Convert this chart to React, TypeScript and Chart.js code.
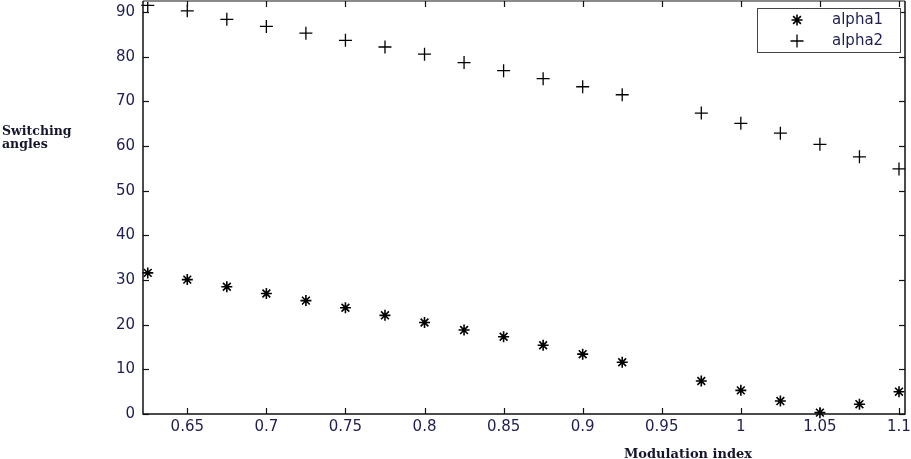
import React, { useEffect, useRef } from "react";
import { Chart, registerables } from "chart.js";

Chart.register(...registerables);

const modulationIndex = [0.625, 0.65, 0.675, 0.7, 0.725, 0.75, 0.775, 0.8, 0.825, 0.85, 0.875, 0.9, 0.925, 0.975, 1.0, 1.025, 1.05, 1.075, 1.1];
const alpha1 = [31.6, 30.1, 28.5, 27.0, 25.4, 23.8, 22.1, 20.5, 18.8, 17.3, 15.4, 13.4, 11.6, 7.4, 5.3, 2.9, 0.3, 2.2, 5.0];
const alpha2 = [91.5, 90.3, 88.4, 86.8, 85.3, 83.7, 82.2, 80.6, 78.7, 76.9, 75.1, 73.3, 71.5, 67.4, 65.1, 62.9, 60.4, 57.6, 54.9];
const xTicks = [0.65, 0.7, 0.75, 0.8, 0.85, 0.9, 0.95, 1.0, 1.05, 1.1];
const xTickLabels = ["0.65", "0.7", "0.75", "0.8", "0.85", "0.9", "0.95", "1", "1.05", "1.1"];
const yTicks = [0, 10, 20, 30, 40, 50, 60, 70, 80, 90];
const seriesNames = ["alpha1", "alpha2"];
const xTitle = "Modulation index";
const yTitleLines = ["Switching", "angles"];

const TICK_COLOR = "#1e1e52";
const TITLE_COLOR = "#15152e";

const matlabPlugin = {
  id: "matlabBox",
  afterDraw(chart: any) {
    const { ctx, chartArea } = chart;
    const { left, right, top, bottom } = chartArea;
    const xs = chart.scales.x;
    const ys = chart.scales.y;
    ctx.save();
    // box
    ctx.lineWidth = 2;
    ctx.strokeStyle = "#8a8a8a";
    ctx.beginPath();
    ctx.moveTo(left, top);
    ctx.lineTo(right, top);
    ctx.stroke();
    ctx.lineWidth = 1.5;
    ctx.strokeStyle = "#111";
    ctx.beginPath();
    ctx.moveTo(left, top);
    ctx.lineTo(left, bottom);
    ctx.lineTo(right, bottom);
    ctx.lineTo(right, top);
    ctx.stroke();
    // inward ticks
    const tl = 6;
    ctx.lineWidth = 1.2;
    ctx.strokeStyle = "#111";
    xTicks.forEach((v) => {
      const px = Math.round(xs.getPixelForValue(v)) + 0.5;
      ctx.beginPath();
      ctx.moveTo(px, bottom);
      ctx.lineTo(px, bottom - tl);
      ctx.stroke();
      ctx.beginPath();
      ctx.moveTo(px, top);
      ctx.lineTo(px, top + tl);
      ctx.stroke();
    });
    yTicks.forEach((v) => {
      const py = Math.round(ys.getPixelForValue(v)) + 0.5;
      ctx.beginPath();
      ctx.moveTo(left, py);
      ctx.lineTo(left + tl, py);
      ctx.stroke();
      ctx.beginPath();
      ctx.moveTo(right, py);
      ctx.lineTo(right - tl, py);
      ctx.stroke();
    });

    // legend
    const lx = 757, ly = 8, lw = 143, lh = 44;
    ctx.fillStyle = "#fff";
    ctx.fillRect(lx, ly, lw, lh);
    ctx.strokeStyle = "#444";
    ctx.lineWidth = 1;
    ctx.strokeRect(lx + 0.5, ly + 0.5, lw, lh);
    const rows = [20, 41];
    const mx = 797;
    ctx.strokeStyle = "#000";
    ctx.lineWidth = 1.6;
    const r1 = 5.5;
    ctx.beginPath();
    ctx.moveTo(mx - r1, rows[0]); ctx.lineTo(mx + r1, rows[0]);
    ctx.moveTo(mx, rows[0] - r1); ctx.lineTo(mx, rows[0] + r1);
    const d = r1 * Math.SQRT1_2;
    ctx.moveTo(mx - d, rows[0] - d); ctx.lineTo(mx + d, rows[0] + d);
    ctx.moveTo(mx - d, rows[0] + d); ctx.lineTo(mx + d, rows[0] - d);
    ctx.stroke();
    const r2 = 6.5;
    ctx.lineWidth = 1.3;
    ctx.beginPath();
    ctx.moveTo(mx - r2, rows[1]); ctx.lineTo(mx + r2, rows[1]);
    ctx.moveTo(mx, rows[1] - r2); ctx.lineTo(mx, rows[1] + r2);
    ctx.stroke();
    ctx.fillStyle = TICK_COLOR;
    ctx.font = "15px 'DejaVu Sans'";
    ctx.textAlign = "left";
    ctx.textBaseline = "middle";
    ctx.fillText(seriesNames[0], 832, rows[0]);
    ctx.fillText(seriesNames[1], 832, rows[1]);

    // titles
    ctx.fillStyle = TITLE_COLOR;
    ctx.font = "bold 12.5px 'DejaVu Serif'";
    ctx.textBaseline = "alphabetic";
    ctx.textAlign = "left";
    ctx.fillText(yTitleLines[0], 2, 135);
    ctx.fillText(yTitleLines[1], 2, 148);
    ctx.font = "bold 13px 'DejaVu Serif'";
    ctx.textAlign = "center";
    ctx.fillText(xTitle, 688, 458);
    ctx.restore();
  },
};

export default function App() {
  const ref = useRef<HTMLCanvasElement>(null);
  useEffect(() => {
    if (!ref.current) return;
    const chart = new Chart(ref.current, {
      type: "scatter",
      data: {
        datasets: [
          {
            label: seriesNames[0],
            data: modulationIndex.map((x, i) => ({ x, y: alpha1[i] })),
            pointStyle: "star",
            pointRadius: 5.5,
            borderColor: "#000",
            backgroundColor: "#000",
            borderWidth: 1.6,
            clip: false,
          },
          {
            label: seriesNames[1],
            data: modulationIndex.map((x, i) => ({ x, y: alpha2[i] })),
            pointStyle: "cross",
            pointRadius: 6.5,
            borderColor: "#000",
            backgroundColor: "#000",
            borderWidth: 1.3,
            clip: false,
          },
        ],
      },
      plugins: [matlabPlugin],
      options: {
        animation: false,
        responsive: false,
        events: [],
        layout: { autoPadding: false, padding: { left: 0, top: 1, right: 6, bottom: 0 } },
        plugins: { legend: { display: false }, tooltip: { enabled: false } },
        scales: {
          x: {
            type: "linear",
            min: 0.622,
            max: 1.1038,
            border: { display: false },
            grid: { display: false, drawTicks: false },
            afterBuildTicks: (scale: any) => {
              scale.ticks = xTicks.map((v) => ({ value: v }));
            },
            afterFit: (scale: any) => {
              scale.height = 45;
              scale.paddingLeft = 0;
              scale.paddingRight = 0;
            },
            ticks: {
              autoSkip: false,
              maxRotation: 0,
              padding: 4,
              color: TICK_COLOR,
              font: { family: "'DejaVu Sans'", size: 15 },
              callback: (v: any) => {
                const i = xTicks.findIndex((t) => Math.abs(t - v) < 1e-6);
                return i >= 0 ? xTickLabels[i] : "";
              },
            },
          },
          y: {
            type: "linear",
            min: 0,
            max: 92.5,
            border: { display: false },
            grid: { display: false, drawTicks: false },
            afterBuildTicks: (scale: any) => {
              scale.ticks = yTicks.map((v) => ({ value: v }));
            },
            afterFit: (scale: any) => {
              scale.width = 143;
              scale.paddingTop = 0;
              scale.paddingBottom = 0;
            },
            ticks: {
              autoSkip: false,
              padding: 8,
              color: TICK_COLOR,
              font: { family: "'DejaVu Sans'", size: 15, lineHeight: 0.1 },
              callback: (v: any) => String(v),
            },
          },
        },
      },
    });
    return () => chart.destroy();
  }, []);
  return (
    <div style={{ position: "absolute", left: 0, top: 0, width: 911, height: 459, background: "#fff" }}>
      <canvas ref={ref} width={911} height={459} style={{ width: 911, height: 459, display: "block" }} />
    </div>
  );
}
